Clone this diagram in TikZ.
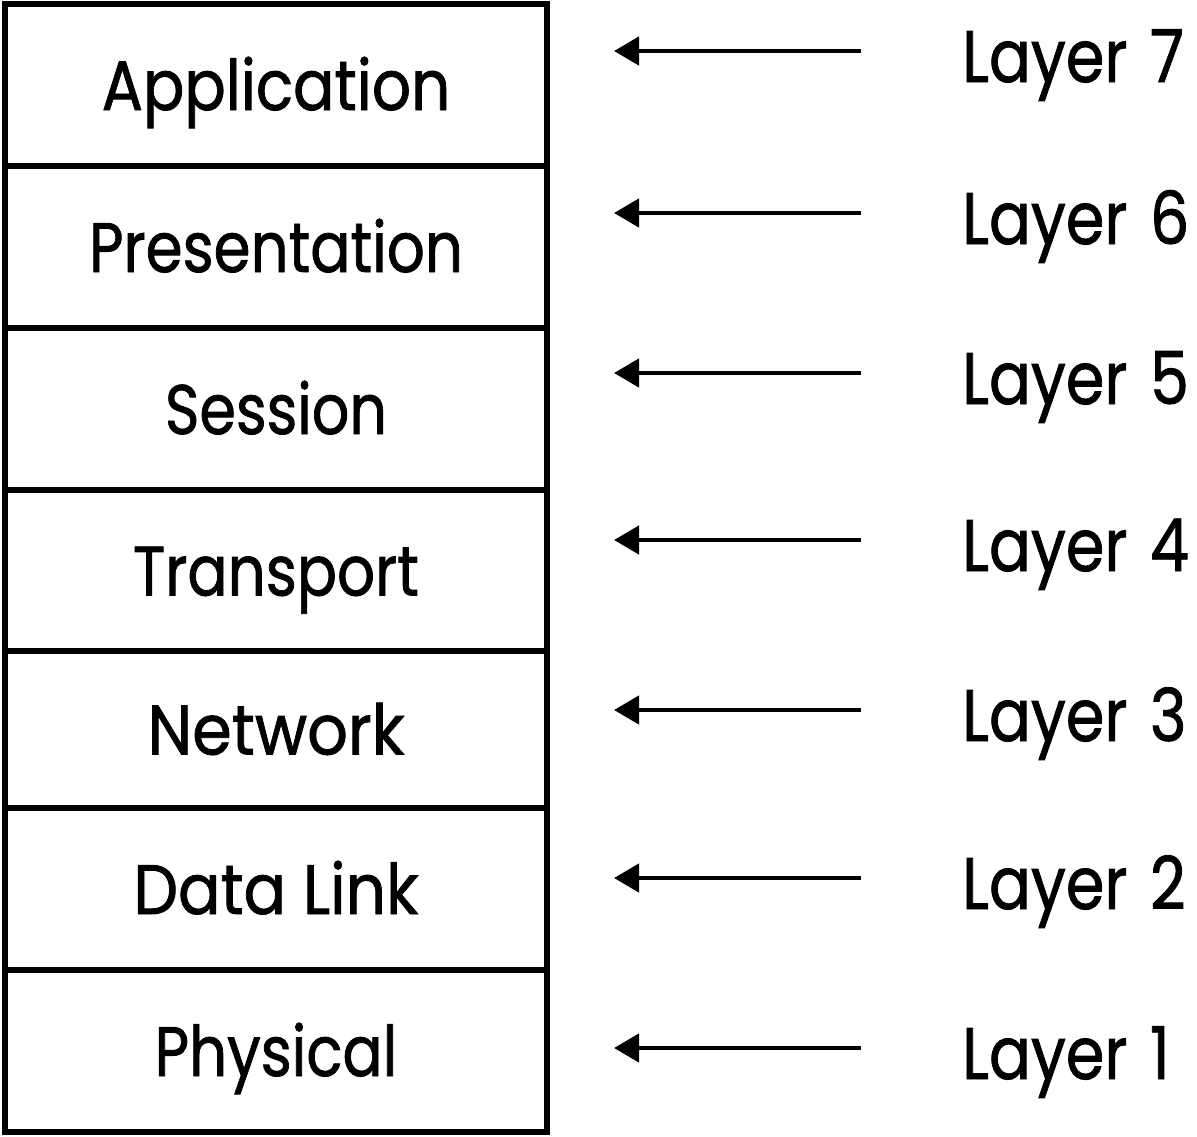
\documentclass[tikz,border=0pt]{standalone}
\usepackage{fontspec}
\setmainfont{Poppins}[FakeBold=1.2]
\usetikzlibrary{arrows.meta}
\newcommand{\narrowtext}[2]{\scalebox{#1}[1]{#2}}
\begin{document}
\begin{tikzpicture}[x=1pt,y=-1pt,
  layerbox/.style={draw, line width=6pt, inner sep=0pt, minimum width=542pt,
    font=\fontsize{70}{80}\selectfont, text height=50pt, text depth=0pt},
  layertag/.style={anchor=west, inner sep=0pt,
    font=\fontsize{73}{80}\selectfont, text height=52pt, text depth=0pt},
  pointer/.style={line width=4.5pt, -{Triangle[length=25pt,width=28pt]}}]
\useasboundingbox (0,0) rectangle (1197,1136);
\foreach \n/\t/\b/\txt/\sc/\k/\ay in {
  app/4/166/Application/0.875/7/51,
  pre/166/328/Presentation/0.85/6/213,
  ses/328/490/Session/0.84/5/373,
  tra/490/651/Transport/0.85/4/540,
  net/651/808/Network/0.91/3/710,
  dat/808/970/Data Link/0.9/2/878,
  phy/970/1132/Physical/0.85/1/1048}{
  \node[layerbox, minimum height={(\b-\t)*1pt}] (\n) at (276,{(\t+\b)/2}) {\narrowtext{\sc}{\txt}};
  \coordinate (s\k) at (861,\ay);
  \coordinate (e\k) at (614,\ay);
  \node[layertag] (L\k) at (962,\ay+5) {\narrowtext{0.85}{Layer \hspace{7pt}\k}};
  \draw[pointer] (s\k) -- (e\k);
}
\end{tikzpicture}
\end{document}
